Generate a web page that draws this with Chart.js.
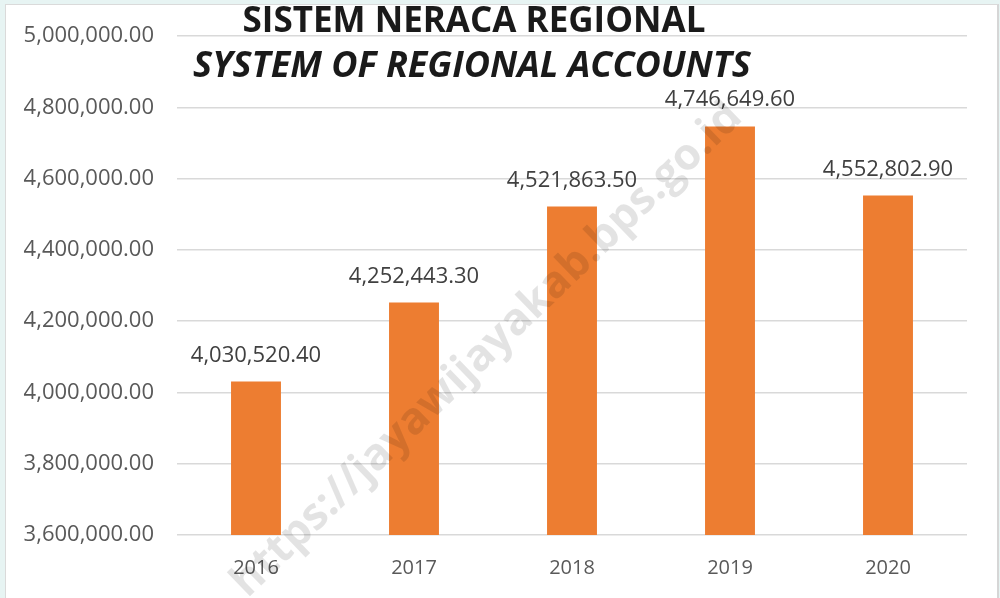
<!DOCTYPE html>
<html>
<head>
<meta charset="utf-8">
<script src="https://cdn.jsdelivr.net/npm/chart.js@4/dist/chart.umd.min.js"></script>
<style>
  html, body { margin: 0; padding: 0; background: #e7f4f3; }
  #frame { position: absolute; left: 5px; top: 4px; width: 991px; height: 600px; background: #ffffff;
           border-top: 1px solid #dadada; border-left: 1px solid #dadada; border-right: 2px solid #d6d6d6; }
  #wrap { position: absolute; left: 0; top: 0; width: 1000px; height: 598px; }
</style>
</head>
<body>
<div id="frame"></div>
<div id="wrap"><canvas id="c" width="1000" height="598"></canvas></div>
<script>
const categories = ["2016", "2017", "2018", "2019", "2020"];
const values = [4030520.40, 4252443.30, 4521863.50, 4746649.60, 4552802.90];
const titleLines = ["SISTEM NERACA REGIONAL", "SYSTEM OF REGIONAL ACCOUNTS"];
const watermark = "https://jayawijayakab.bps.go.id";
const yMin = 3600000, yMax = 5000000, yStep = 200000;

const fmt = v => Number(v).toLocaleString('en-US', {minimumFractionDigits: 2, maximumFractionDigits: 2});

const overlayPlugin = {
  id: 'overlay',
  afterDatasetsDraw(chart) {
    const ctx = chart.ctx;
    const meta = chart.getDatasetMeta(0);
    ctx.save();
    ctx.font = '22px "Open Sans"';
    ctx.fillStyle = '#404040';
    ctx.textAlign = 'center';
    ctx.textBaseline = 'alphabetic';
    meta.data.forEach((bar, i) => {
      ctx.fillText(fmt(values[i]), bar.x, bar.y - 20);
    });
    ctx.restore();
  },
  afterDraw(chart) {
    const ctx = chart.ctx;
    ctx.save();
    ctx.fillStyle = '#1a1a1a';
    ctx.textAlign = 'center';
    ctx.textBaseline = 'alphabetic';
    ctx.font = 'bold 35px "Open Sans"';
    ctx.fillText(titleLines[0], 474, 32);
    ctx.font = 'italic bold 36px "Open Sans"';
    ctx.fillText(titleLines[1], 472, 77);
    ctx.restore();

    ctx.save();
    ctx.translate(487, 350);
    ctx.rotate(-44 * Math.PI / 180);
    ctx.font = 'bold 44px "Open Sans"';
    ctx.fillStyle = 'rgba(0,0,0,0.11)';
    ctx.textAlign = 'center';
    ctx.textBaseline = 'middle';
    ctx.fillText(watermark, 0, 0);
    ctx.restore();
  }
};

new Chart(document.getElementById('c'), {
  type: 'bar',
  data: {
    labels: categories,
    datasets: [{
      data: values,
      backgroundColor: '#ED7D31',
      borderWidth: 0,
      barPercentage: 0.316,
      categoryPercentage: 1.0
    }]
  },
  options: {
    responsive: false,
    animation: false,
    devicePixelRatio: 1,
    layout: { padding: { left: 0, right: 33, top: 34.5, bottom: 0 } },
    plugins: { legend: { display: false }, tooltip: { enabled: false }, title: { display: false } },
    scales: {
      x: {
        grid: { display: false, drawTicks: false },
        border: { display: false },
        ticks: { color: '#595959', font: { family: 'Open Sans', size: 20 }, padding: 21 },
        afterFit(scale) { scale.height = 63; }
      },
      y: {
        min: yMin, max: yMax,
        grid: { color: '#d9d9d9', lineWidth: 1.5, drawTicks: false },
        border: { display: false },
        ticks: {
          stepSize: yStep,
          color: '#595959',
          font: { family: 'Open Sans', size: 22 },
          padding: 23,
          callback: v => fmt(v)
        },
        afterFit(scale) { scale.width = 177; }
      }
    }
  },
  plugins: [overlayPlugin]
});
</script>
</body>
</html>
